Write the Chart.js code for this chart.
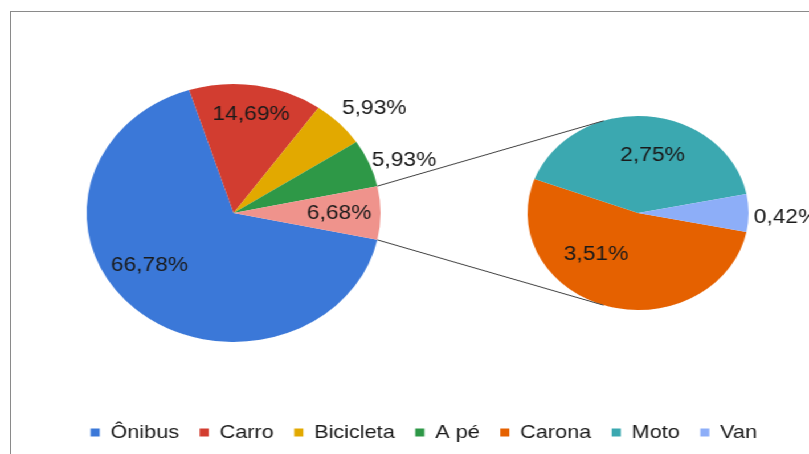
<!DOCTYPE html>
<html>
<head>
<meta charset="utf-8">
<script src="https://cdn.jsdelivr.net/npm/chart.js@4.4.0/dist/chart.umd.min.js"></script>
<style>
    html, body { margin: 0; padding: 0; background: #fff; width: 809px; height: 454px; overflow: hidden; }
    #frame { position: absolute; left: 10px; top: 11px; width: 1000px; height: 1000px;
             border-left: 1px solid #8a8a8a; border-top: 1px solid #8a8a8a; }
    /* the reference picture is stretched sideways, so the whole drawing is too */
    #wrap { position: absolute; left: 0; top: 0; width: 710px; height: 454px;
            transform: scaleX(1.1394); transform-origin: 0 0; }
    #wrap canvas { position: absolute; left: 0; top: 0; }
</style>
</head>
<body>
<div id="frame"></div>
<div id="wrap">
    <canvas id="mainPie" width="710" height="454"></canvas>
    <canvas id="detailPie" width="710" height="454"></canvas>
</div>
<script>
const mainLabels = ['Ônibus', 'Carro', 'Bicicleta', 'A pé', 'Outros'];
const mainValues = [66.78, 14.69, 5.93, 5.93, 6.68];
const detailLabels = ['Carona', 'Moto', 'Van'];
const detailValues = [3.51, 2.75, 0.42];
const legendNames = ['Ônibus', 'Carro', 'Bicicleta', 'A pé', 'Carona', 'Moto', 'Van'];

const colors = {
    'Ônibus': '#3b78d8',
    'Carro': '#d23d30',
    'Bicicleta': '#e2a900',
    'A pé': '#2e9847',
    'Outros': '#ef938c',
    'Carona': '#e56100',
    'Moto': '#3ba8b0',
    'Van': '#8daef8'
};

Chart.defaults.font.family = '"Liberation Sans", Arial, sans-serif';
const textColor = '#1a1a1a';

const fmt = v => v.toFixed(2).replace('.', ',') + '%';
const sum = arr => arr.reduce((a, b) => a + b, 0);

// puts the pie at a fixed centre / radius inside the canvas
function placeArea(cx, cy, r) {
    return {
        id: 'placeArea',
        afterLayout(chart) {
            const a = chart.chartArea;
            a.left = cx - r; a.right = cx + r;
            a.top = cy - r; a.bottom = cy + r;
            a.width = 2 * r; a.height = 2 * r;
        }
    };
}

// value labels; place = [radius factor, angle shift in degrees] per slice
function sliceLabels(place) {
    return {
        id: 'sliceLabels',
        afterDatasetsDraw(chart) {
            const ctx = chart.ctx;
            const arcs = chart.getDatasetMeta(0).data;
            const values = chart.data.datasets[0].data;
            ctx.save();
            ctx.font = '20px "Liberation Sans", Arial, sans-serif';
            ctx.fillStyle = textColor;
            ctx.textAlign = 'center';
            ctx.textBaseline = 'middle';
            arcs.forEach((arc, i) => {
                const a = (arc.startAngle + arc.endAngle) / 2 + place[i][1] * Math.PI / 180;
                const d = arc.outerRadius * place[i][0];
                ctx.fillText(fmt(values[i]), arc.x + Math.cos(a) * d, arc.y + Math.sin(a) * d);
            });
            ctx.restore();
        }
    };
}

// main pie: the "Outros" slice is centred on the right side
const mainRotation = 90 + mainValues[4] / sum(mainValues) * 180;
const mainChart = new Chart(document.getElementById('mainPie').getContext('2d'), {
    type: 'pie',
    data: {
        labels: mainLabels,
        datasets: [{
            data: mainValues,
            backgroundColor: mainLabels.map(n => colors[n]),
            borderWidth: 0,
            clip: false
        }]
    },
    options: {
        responsive: false,
        animation: false,
        events: [],
        rotation: mainRotation,
        layout: { padding: { left: 34, right: 0, top: 0, bottom: 2 } },
        plugins: {
            tooltip: { enabled: false },
            legend: {
                position: 'bottom',
                onClick: () => {},
                labels: {
                    boxWidth: 8,
                    boxHeight: 8,
                    padding: 18,
                    color: textColor,
                    font: { size: 19 },
                    generateLabels: () => legendNames.map((n, i) => ({
                        text: n, fillStyle: colors[n], strokeStyle: colors[n],
                        lineWidth: 0, hidden: false, index: i, fontColor: textColor
                    }))
                }
            }
        }
    },
    plugins: [
        placeArea(205, 213, 129),
        sliceLabels([[0.70, 12.6], [0.775, 0], [1.256, 3.7], [1.228, 3.5], [0.718, 0]])
    ]
});

// lines from the "Outros" slice to the second pie (tangents)
const connectors = {
    id: 'connectors',
    afterDraw(chart) {
        const src = mainChart.getDatasetMeta(0).data[4];
        const dst = chart.getDatasetMeta(0).data[0];
        const ctx = chart.ctx;
        ctx.save();
        ctx.strokeStyle = '#404040';
        ctx.lineWidth = 1;
        [src.startAngle, src.endAngle].forEach((ang, k) => {
            const px = src.x + Math.cos(ang) * src.outerRadius;
            const py = src.y + Math.sin(ang) * src.outerRadius;
            const dx = px - dst.x, dy = py - dst.y;
            const base = Math.atan2(dy, dx);
            const off = Math.acos(dst.outerRadius / Math.hypot(dx, dy));
            const t = k === 0 ? base + off : base - off;
            ctx.beginPath();
            ctx.moveTo(px, py);
            ctx.lineTo(dst.x + Math.cos(t) * dst.outerRadius, dst.y + Math.sin(t) * dst.outerRadius);
            ctx.stroke();
        });
        ctx.restore();
    }
};

// second pie: "Van" centred on the right side
const detailRotation = 90 + detailValues[2] / sum(detailValues) * 180;
new Chart(document.getElementById('detailPie').getContext('2d'), {
    type: 'pie',
    data: {
        labels: detailLabels,
        datasets: [{
            data: detailValues,
            backgroundColor: detailLabels.map(n => colors[n]),
            borderWidth: 0,
            clip: false
        }]
    },
    options: {
        responsive: false,
        animation: false,
        events: [],
        rotation: detailRotation,
        plugins: {
            tooltip: { enabled: false },
            legend: { display: false }
        }
    },
    plugins: [
        placeArea(560, 213, 97),
        sliceLabels([[0.57, 26], [0.61, 7.8], [1.34, 1.8]]),
        connectors
    ]
});
</script>
</body>
</html>
